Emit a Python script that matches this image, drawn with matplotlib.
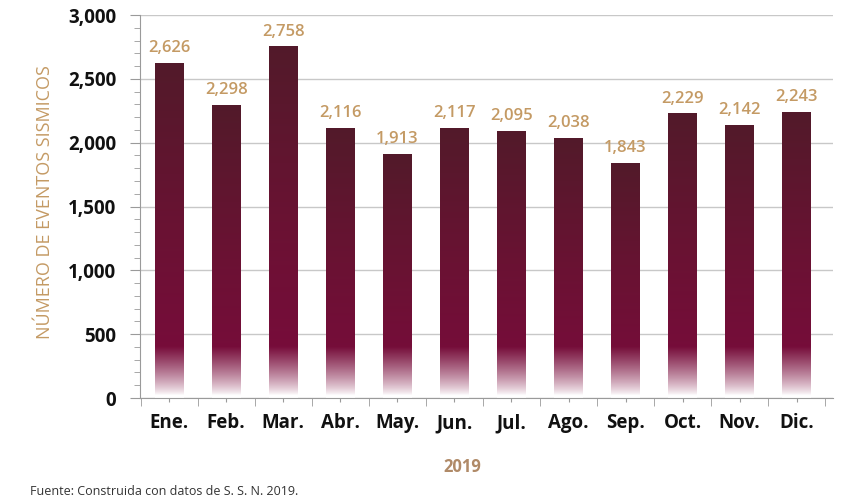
import numpy as np
import matplotlib.pyplot as plt
from matplotlib.colors import to_rgb
from matplotlib.ticker import MultipleLocator, FuncFormatter

# Datos: número de eventos sísmicos por mes, 2019
meses = ["Ene.", "Feb.", "Mar.", "Abr.", "May.", "Jun.", "Jul.", "Ago.",
         "Sep.", "Oct.", "Nov.", "Dic."]
eventos = [2626, 2298, 2758, 2116, 1913, 2117, 2095, 2038, 1843, 2229, 2142, 2243]

dorado = "#c49a64"
fuente = "Open Sans"

fig = plt.figure(figsize=(8.51, 5.04), dpi=100)
ax = fig.add_axes([0.1645, 0.2103, 0.814, 0.7599])

x = np.arange(len(meses))
ancho = 0.5
barras = ax.bar(x, eventos, width=ancho, color="none", edgecolor="none", zorder=2)

# degradado vertical: granate oscuro arriba, carmesí abajo y desvanecido a blanco en la base
c_top = np.array(to_rgb("#521a2a"))
c_mid = np.array(to_rgb("#6a1233"))
c_low = np.array(to_rgb("#7c0a3d"))
blanco = np.array([1.0, 1.0, 1.0])
for barra, h in zip(barras, eventos):
    n = 300
    yy = np.linspace(0, h, n)
    t = yy / h
    rgb = np.empty((n, 3))
    for i, ti in enumerate(t):
        if ti > 0.5:
            a = (ti - 0.5) / 0.5
            rgb[i] = c_mid * (1 - a) + c_top * a
        else:
            a = ti / 0.5
            rgb[i] = c_low * (1 - a) + c_mid * a
    # desvanecido en la base (valores absolutos)
    f = np.clip((yy - 20) / 380, 0, 1) ** 0.8
    rgb = blanco * (1 - f[:, None]) * 0.95 + rgb * f[:, None] + blanco * 0.05 * (1 - f[:, None])
    img = rgb[:, None, :]
    x0 = barra.get_x()
    im = ax.imshow(img, extent=[x0, x0 + barra.get_width(), 0, h], origin="lower",
                   aspect="auto", zorder=2, interpolation="bilinear")
    im.set_clip_path(barra)
    ax.text(barra.get_x() + barra.get_width() / 2, h + 50, f"{h:,}",
            ha="center", va="bottom", color=dorado, fontsize=12,
            fontweight="semibold", family=fuente)

ax.set_xlim(-0.51, 11.63)
ax.set_ylim(0, 3000)

ax.yaxis.set_major_locator(MultipleLocator(500))
ax.yaxis.set_minor_locator(MultipleLocator(100))
ax.yaxis.set_major_formatter(FuncFormatter(lambda v, p: f"{int(v):,}"))
ax.grid(axis="y", which="major", color="#c8c8c8", linewidth=1.0, zorder=0)

ax.set_xticks(x)
ax.set_xticklabels(meses)
ax.set_xticks(np.arange(-0.5, 12, 1), minor=True)

for s in ["top", "right"]:
    ax.spines[s].set_visible(False)
for s in ["left", "bottom"]:
    ax.spines[s].set_color("#9a9a9a")
    ax.spines[s].set_linewidth(0.8)

ax.tick_params(axis="y", which="major", length=7, color="#9a9a9a", pad=10,
               labelsize=13.5)
ax.tick_params(axis="y", which="minor", length=4, color="#9a9a9a")
ax.tick_params(axis="x", which="major", length=3, color="#9a9a9a", pad=8,
               labelsize=13.5)
ax.tick_params(axis="x", which="minor", length=6, color="#9a9a9a")
for lab in ax.get_xticklabels() + ax.get_yticklabels():
    lab.set_fontweight("bold")
    lab.set_family(fuente)
    lab.set_color("#111111")

fig.text(0.053, 0.6, "NÚMERO DE EVENTOS SISMICOS", rotation=90, ha="center",
         va="center", color=dorado, fontsize=13, family=fuente)
fig.text(0.543, 0.073, "2019", ha="center", va="center", color="#b08a68",
         fontsize=12, fontweight="bold", family=fuente)
fig.text(0.035, 0.024, "Fuente: Construida con datos de S. S. N. 2019.",
         ha="left", va="center", color="#333333", fontsize=9, family=fuente)

fig.savefig("out.png", dpi=100)
